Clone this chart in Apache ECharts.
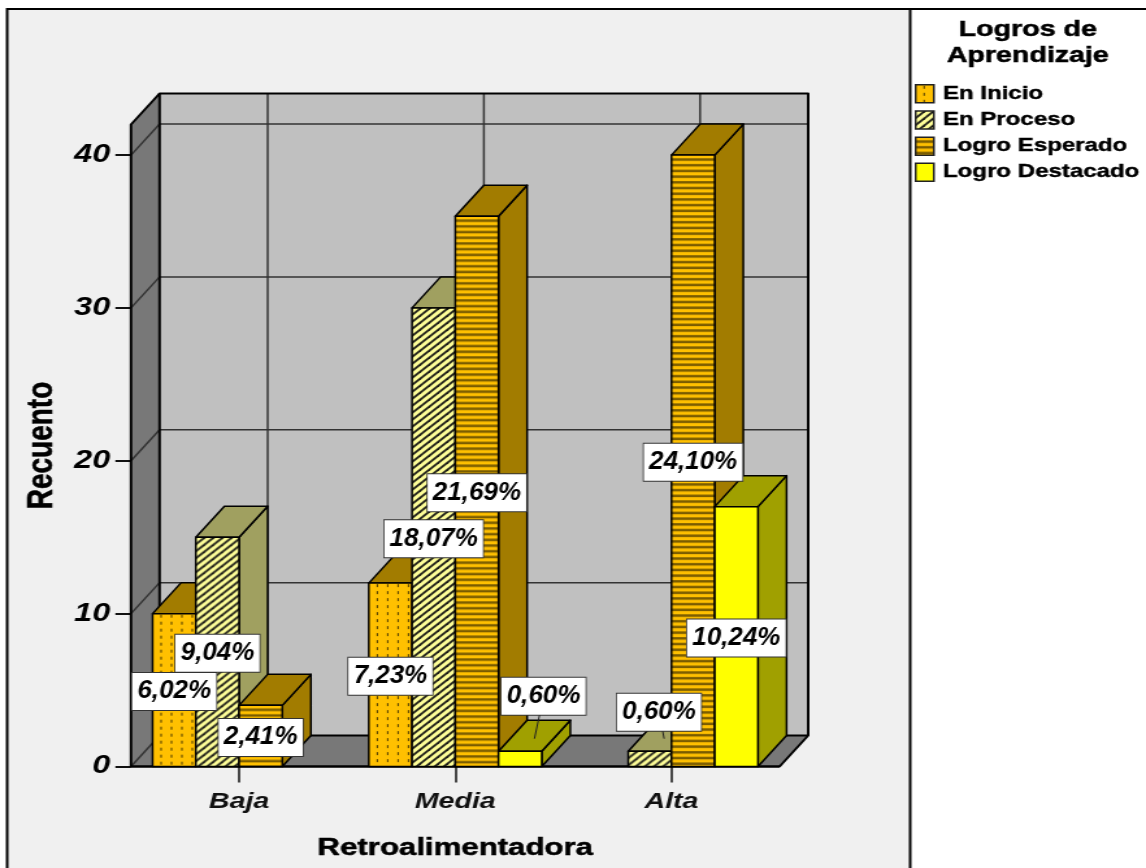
<!DOCTYPE html>
<html>
<head>
<meta charset="utf-8">
<style>
html,body{margin:0;padding:0;background:#fff;overflow:hidden;width:1146px;height:868px}
#c{width:882px;height:868px;transform:scaleX(1.2993);transform-origin:0 0}
</style>
<script src="https://cdn.jsdelivr.net/npm/echarts@6/dist/echarts.min.js"></script>
</head>
<body>
<div id="c"></div>
<script>
// ---- data ----
const categories = ['Baja', 'Media', 'Alta'];
const enInicio = [10, 12, null];
const enProceso = [15, 30, 1];
const logroEsperado = [4, 36, 40];
const logroDestacado = [null, 1, 17];
const pctInicio = ['6,02%', '7,23%', null];
const pctProceso = ['9,04%', '18,07%', '0,60%'];
const pctEsperado = ['2,41%', '21,69%', '24,10%'];
const pctDestacado = [null, '0,60%', '10,24%'];
const seriesNames = ['En Inicio', 'En Proceso', 'Logro Esperado', 'Logro Destacado'];
const yTicks = [0, 10, 20, 30, 40];
const yMax = 42;

// ---- styling ----
const FONT = '"Liberation Sans", Arial, sans-serif';
const DX = 22, DY = 31;             // depth of the 3D box
const BAR_SHARE = 0.2;              // bar width as a share of a category band
const darkGold = '#A27C00';
const sideColors = [darkGold, '#A0A060', darkGold, '#A0A000'];

function tile(w, h, draw) {
  const c = document.createElement('canvas');
  c.width = w; c.height = h;
  draw(c.getContext('2d'), w, h);
  return { image: c, repeat: 'repeat' };
}
const dotted = tile(8, 7, (g, w, h) => {
  g.fillStyle = '#FFC000'; g.fillRect(0, 0, w, h);
  g.fillStyle = '#4a3800'; g.fillRect(6, 1, 1, 3);
});
const hatched = tile(7, 7, (g, w, h) => {
  g.fillStyle = '#FFFF99'; g.fillRect(0, 0, w, h);
  g.strokeStyle = '#111'; g.lineWidth = 1.8;
  [-7, 0, 7].forEach(o => {
    g.beginPath(); g.moveTo(o - 1, h + 1); g.lineTo(o + w + 1, -1); g.stroke();
  });
});
const striped = tile(2, 57, (g, w, h) => {
  g.fillStyle = '#FFC000'; g.fillRect(0, 0, w, h);
  g.fillStyle = '#7a5c00';
  for (let i = 0; i < 10; i++) g.fillRect(0, i * 5.7 + 3.2, w, 2.5);
});
const fills = [dotted, hatched, striped, '#FFFF00'];

function barRect(api, s) {
  const cat = api.value(0), val = api.value(1);
  const band = api.size([1, 0])[0];
  const w = band * BAR_SHARE;
  const base = api.coord([cat, 0]);
  const top = api.coord([cat, val]);
  return { l: base[0] + (s - 2) * w, r: base[0] + (s - 1) * w, t: top[1], b: base[1], w };
}

function renderBar(s) {
  return function (params, api) {
    const q = barRect(api, s);
    const edge = { stroke: '#000', lineWidth: 1.5, lineJoin: 'round' };
    return {
      type: 'group',
      children: [
        { type: 'polygon', shape: { points: [[q.r, q.t], [q.r + DX, q.t - DY], [q.r + DX, q.b - DY], [q.r, q.b]] },
          style: Object.assign({ fill: sideColors[s] }, edge) },
        { type: 'polygon', shape: { points: [[q.l, q.t], [q.l + DX, q.t - DY], [q.r + DX, q.t - DY], [q.r, q.t]] },
          style: Object.assign({ fill: sideColors[s] }, edge) },
        { type: 'rect', x: q.l, y: q.t, shape: { x: 0, y: 0, width: q.w, height: q.b - q.t },
          style: Object.assign({ fill: fills[s] }, edge) }
      ]
    };
  };
}

function renderWalls(params, api) {
  const g = params.coordSys;
  const l = g.x, r = g.x + g.width, t = g.y, b = g.y + g.height;
  const solid = { stroke: '#000', lineWidth: 2, lineJoin: 'round' };
  const grid = { stroke: '#333', lineWidth: 1.5 };
  const kids = [
    { type: 'polygon', shape: { points: [[l + DX, t - DY], [r + DX, t - DY], [r + DX, b - DY], [l + DX, b - DY]] }, style: { fill: '#C0C0C0' } },
    { type: 'polygon', shape: { points: [[l, t], [l + DX, t - DY], [l + DX, b - DY], [l, b]] }, style: { fill: '#787878' } },
    { type: 'polygon', shape: { points: [[l, b], [l + DX, b - DY], [r + DX, b - DY], [r, b]] }, style: { fill: '#787878' } }
  ];
  yTicks.slice(1).forEach(v => {
    const y = api.coord([0, v])[1];
    kids.push({ type: 'polyline', shape: { points: [[l, y], [l + DX, y - DY], [r + DX, y - DY]] }, style: Object.assign({ fill: null }, grid) });
  });
  kids.push({ type: 'line', shape: { x1: l, y1: b, x2: l + DX, y2: b - DY }, style: grid });
  categories.forEach((c, i) => {
    const x = api.coord([i, 0])[0] + DX;
    kids.push({ type: 'line', shape: { x1: x, y1: t - DY, x2: x, y2: b - DY }, style: grid });
  });
  kids.push({ type: 'polygon', shape: { points: [[l, b], [l, t], [l + DX, t - DY], [r + DX, t - DY], [r + DX, b - DY], [r, b]] }, style: Object.assign({ fill: null }, solid) });
  kids.push({ type: 'polyline', shape: { points: [[l + DX, t - DY], [l + DX, b - DY], [r + DX, b - DY]] }, style: Object.assign({ fill: null }, solid) });
  kids.push({ type: 'line', shape: { x1: l, y1: b, x2: r, y2: b }, style: solid });
  return { type: 'group', children: kids };
}

// Labels of very short bars are moved up with a leader line
const LIFTED = { '1|3': [18, -64], '2|1': [7, -48] };

function renderLabel(params, api) {
  const s = api.value(2);
  const q = barRect(api, s);
  const cx = (q.l + q.r) / 2, cy = (q.t + q.b) / 2 + 1.5;
  const key = api.value(0) + '|' + s;
  const off = LIFTED[key] || [0, 0];
  const kids = [];
  if (LIFTED[key]) {
    kids.push({ type: 'line', shape: { x1: cx + off[0], y1: cy + off[1], x2: cx + DX / 2, y2: q.t - DY / 2 + 3 },
      style: { stroke: '#222', lineWidth: 1 } });
  }
  kids.push({
    type: 'text', x: cx + off[0], y: cy + off[1], scaleX: 0.8,
    style: {
      text: labelTexts[params.dataIndex], fill: '#000', font: 'italic bold 25px ' + FONT,
      align: 'center', verticalAlign: 'middle',
      backgroundColor: '#fff', borderColor: '#333', borderWidth: 1, padding: [6, 5, 6, 5]
    }
  });
  return { type: 'group', children: kids };
}

const valueSets = [enInicio, enProceso, logroEsperado, logroDestacado];
const pctSets = [pctInicio, pctProceso, pctEsperado, pctDestacado];
const labelData = [], labelTexts = [];
pctSets.forEach((set, s) => set.forEach((txt, c) => {
  if (txt !== null) { labelData.push([c, valueSets[s][c], s]); labelTexts.push(txt); }
}));

const barSeries = seriesNames.map((name, s) => ({
  type: 'custom', name, z: 3 + s,
  renderItem: renderBar(s),
  encode: { x: 0, y: 1 },
  itemStyle: { color: fills[s] },
  silent: true,
  data: valueSets[s].map((v, c) => [c, v]).filter(d => d[1] !== null)
}));

const chart = echarts.init(document.getElementById('c'), null, { renderer: 'canvas', width: 882, height: 868 });
chart.setOption({
  animation: false,
  backgroundColor: '#fff',
  title: {
    text: 'Logros de\nAprendizaje', left: 786, top: 12, textAlign: 'center',
    textStyle: { fontFamily: FONT, fontWeight: 'bold', fontSize: 22, lineHeight: 26, color: '#000', textBorderColor: '#000', textBorderWidth: 0.5 }
  },
  legend: {
    orient: 'vertical', left: 704, top: 84, padding: 0, itemWidth: 14, itemHeight: 18, itemGap: 6.7,
    selectedMode: false,
    textStyle: { fontFamily: FONT, fontWeight: 'bold', fontSize: 18.5, color: '#000', padding: [0, 0, 0, 2], textBorderColor: '#000', textBorderWidth: 0.4 },
    data: seriesNames.map((name, s) => ({
      name, icon: 'rect',
      itemStyle: { color: fills[s], borderColor: '#222', borderWidth: 1.5 }
    }))
  },
  grid: { left: 100.8, top: 124.5, width: 499.2, height: 642, outerBoundsMode: 'none' },
  xAxis: {
    type: 'category', data: categories,
    name: 'Retroalimentadora', nameLocation: 'middle', nameGap: 70,
    nameTextStyle: { fontFamily: FONT, fontWeight: 'bold', fontSize: 24, color: '#000', textBorderColor: '#000', textBorderWidth: 0.5 },
    axisLine: { show: false },
    axisTick: { show: true, alignWithLabel: true, length: 16, lineStyle: { color: '#111', width: 1.5 } },
    axisLabel: { margin: 24, fontFamily: FONT, fontStyle: 'italic', fontWeight: 'bold', fontSize: 22, color: '#111' }
  },
  yAxis: {
    type: 'value', min: 0, max: yMax, interval: 10,
    name: 'Recuento', nameLocation: 'middle', nameGap: 51,
    nameTextStyle: { fontFamily: FONT, fontWeight: 'bold', fontSize: 28, color: '#000', textBorderColor: '#000', textBorderWidth: 0.5 },
    splitLine: { show: false },
    axisLine: { show: false },
    axisTick: { show: true, length: 12, customValues: yTicks, lineStyle: { color: '#111', width: 2 } },
    axisLabel: { margin: 16, padding: [4, 0, 0, 0], customValues: yTicks, fontFamily: FONT, fontStyle: 'italic', fontWeight: 'bold', fontSize: 25, color: '#000' }
  },
  graphic: [
    { type: 'rect', z: -1, silent: true, shape: { x: 5.5, y: 9, width: 695, height: 880 },
      style: { fill: '#F0F0F0', stroke: '#000', lineWidth: 2 } },
    { type: 'line', z: -1, silent: true, shape: { x1: 700, y1: 9, x2: 882, y2: 9 },
      style: { stroke: '#000', lineWidth: 2 } }
  ],
  series: [
    { type: 'custom', name: 'walls', z: 2, silent: true, renderItem: renderWalls, encode: { x: 0, y: 1 }, data: [[0, 0]] }
  ].concat(barSeries, [
    { type: 'custom', name: 'porcentajes', z: 20, silent: true, renderItem: renderLabel, encode: { x: 0, y: 1 }, data: labelData }
  ])
});
</script>
</body>
</html>
